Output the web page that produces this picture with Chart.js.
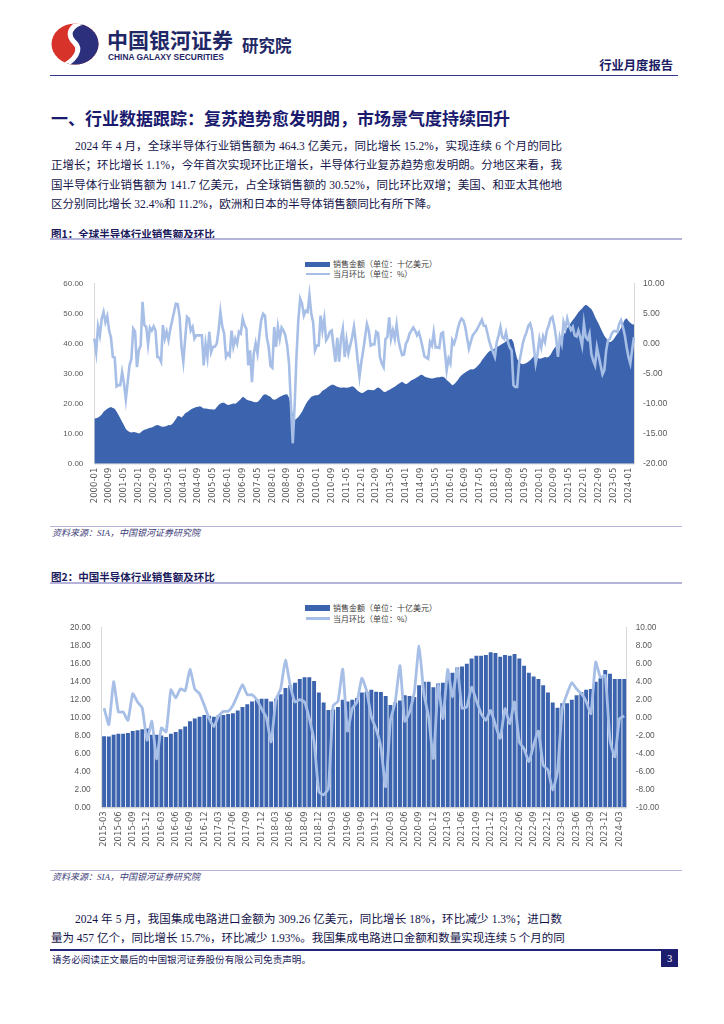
<!DOCTYPE html>
<html lang="zh-CN">
<head>
<meta charset="utf-8">
<title>行业月度报告</title>
<script src="https://cdn.jsdelivr.net/npm/chart.js@4.4.1/dist/chart.umd.min.js"></script>
<style>
  html, body { margin: 0; padding: 0; background: #fff; }
  body { width: 724px; height: 1024px; position: relative; overflow: hidden;
         font-family: "Liberation Serif", "Noto Sans CJK SC", serif; color: #14144a; }
  .abs { position: absolute; white-space: nowrap; }
  .hline { position: absolute; height: 0; }
  .para div { width: 511px; height: 19.2px; line-height: 19.2px; font-size: 11.5px;
              text-align: justify; text-align-last: justify; white-space: nowrap; }
  .para div.first { padding-left: 24px; width: 487px; }
  .para div.last { text-align-last: left; }
  .figtitle { font-family: "Noto Sans CJK SC", sans-serif; font-weight: bold; font-size: 10.5px; color: #1a1a5c; }
  .source { font-family: "Liberation Serif", "Noto Sans CJK SC", serif; font-style: italic; font-size: 9px; color: #3c3c78; }
  .legend { font-family: "Noto Sans CJK SC", sans-serif; font-size: 8px; color: #404040; line-height: 10px; }
  canvas { position: absolute; }
</style>
</head>
<body>

<!-- header -->
<svg class="abs" style="left:51px;top:23px" width="48" height="42" viewBox="0 0 48 42">
  <defs><clipPath id="logoClip"><ellipse cx="24" cy="21" rx="23.5" ry="20.5"/></clipPath></defs>
  <g clip-path="url(#logoClip)">
    <rect width="48" height="42" fill="#d8332b"/>
    <path d="M 42 -1 C 24 -3, 13 9, 23 19 C 31 26, 26 37, 8 45 L 50 45 L 50 -1 Z" fill="#2b2f7c"/>
    <path d="M 42 -1 C 24 -3, 13 9, 23 19 C 31 26, 26 37, 8 45" stroke="#fff" stroke-width="5" fill="none"/>
  </g>
</svg>
<div class="abs" style="left:107px;top:27px;font-family:'Noto Sans CJK SC',sans-serif;font-weight:bold;font-size:21px;line-height:24px;color:#1f2766;">中国银河证券</div>
<div class="abs" style="left:108px;top:52px;font-family:'Liberation Sans',sans-serif;font-weight:bold;font-size:8.4px;line-height:10px;color:#1f2766;">CHINA GALAXY SECURITIES</div>
<div class="abs" style="left:242px;top:35px;font-family:'Noto Sans CJK SC',sans-serif;font-weight:bold;font-size:16.5px;line-height:20px;color:#1f2766;">研究院</div>
<div class="abs" style="right:51px;top:57px;font-family:'Noto Sans CJK SC',sans-serif;font-weight:bold;font-size:12.3px;line-height:16px;color:#1c1c66;">行业月度报告</div>
<div class="hline" style="left:50px;width:628px;top:74.5px;border-top:1.5px solid #34348a;"></div>

<!-- section title -->
<div class="abs" style="left:51px;top:106px;font-family:'Noto Sans CJK SC',sans-serif;font-weight:bold;font-size:17px;line-height:23px;color:#1a1a6e;">一、行业数据跟踪：复苏趋势愈发明朗，市场景气度持续回升</div>

<!-- paragraph 1 -->
<div class="para abs" style="left:51px;top:137.2px;">
  <div class="first">2024 年 4 月，全球半导体行业销售额为 464.3 亿美元，同比增长 15.2%，实现连续 6 个月的同比</div>
  <div>正增长；环比增长 1.1%，今年首次实现环比正增长，半导体行业复苏趋势愈发明朗。分地区来看，我</div>
  <div>国半导体行业销售额为 141.7 亿美元，占全球销售额的 30.52%，同比环比双增；美国、和亚太其他地</div>
  <div class="last">区分别同比增长 32.4%和 11.2%，欧洲和日本的半导体销售额同比有所下降。</div>
</div>

<!-- figure 1 -->
<div class="abs figtitle" style="left:51px;top:226px;line-height:15px;">图1：全球半导体行业销售额及环比</div>
<div class="hline" style="left:50px;width:632px;top:238px;border-top:2px solid #b6b3d9;"></div>

<div class="abs" style="left:305px;top:261.5px;width:25px;height:5.5px;background:#3c64ae;"></div>
<div class="abs legend" style="left:333px;top:259px;">销售金额（单位：十亿美元）</div>
<div class="abs" style="left:306px;top:272.7px;width:24px;height:2.7px;background:#a7bfe7;"></div>
<div class="abs legend" style="left:333px;top:269px;">当月环比（单位：%）</div>

<canvas id="globalChart" width="650" height="244" style="left:40px;top:268px;"></canvas>

<div class="hline" style="left:50px;width:632px;top:526px;border-top:1px solid #b6b3d9;"></div>
<div class="abs source" style="left:52px;top:527px;line-height:13px;">资料来源：SIA，中国银河证券研究院</div>

<!-- figure 2 -->
<div class="abs figtitle" style="left:51px;top:569px;line-height:15px;">图2：中国半导体行业销售额及环比</div>
<div class="hline" style="left:50px;width:632px;top:582px;border-top:2px solid #b6b3d9;"></div>

<div class="abs" style="left:305px;top:605px;width:25px;height:5.5px;background:#3c64ae;"></div>
<div class="abs legend" style="left:333px;top:602.5px;">销售金额（单位：十亿美元）</div>
<div class="abs" style="left:306px;top:617px;width:24px;height:2.7px;background:#a7bfe7;"></div>
<div class="abs legend" style="left:333px;top:613.5px;">当月环比（单位：%）</div>

<canvas id="chinaChart" width="650" height="244" style="left:40px;top:612px;"></canvas>

<div class="hline" style="left:50px;width:632px;top:870px;border-top:1px solid #b6b3d9;"></div>
<div class="abs source" style="left:52px;top:870.5px;line-height:13px;">资料来源：SIA，中国银河证券研究院</div>

<!-- paragraph 2 -->
<div class="para abs" style="left:51px;top:909.5px;">
  <div class="first">2024 年 5 月，我国集成电路进口金额为 309.26 亿美元，同比增长 18%，环比减少 1.3%；进口数</div>
  <div>量为 457 亿个，同比增长 15.7%，环比减少 1.93%。我国集成电路进口金额和数量实现连续 5 个月的同</div>
</div>

<!-- footer -->
<div class="hline" style="left:50px;width:628px;top:948.5px;border-top:2px solid #23237a;"></div>
<div class="abs" style="left:52px;top:951.5px;font-family:'Noto Sans CJK SC',sans-serif;font-size:9.6px;line-height:14px;color:#1a1a5a;">请务必阅读正文最后的中国银河证券股份有限公司免责声明。</div>
<div class="abs" style="left:661px;top:950px;width:17px;height:17px;background:#1d1d70;color:#fff;font-family:'Liberation Serif',serif;font-size:10.5px;line-height:17px;text-align:center;">3</div>

<script>
// --- data ---
// Figure 1: global semiconductor sales (bn USD), 2000-01 .. 2024-04
const globalSales = [
  15.1, 15.2, 15.4, 15.8, 16.4, 17.3, 17.8, 18.3, 18.7, 18.9, 18.6, 18.3, // 2000
  17.4, 16.3, 15.2, 14.0, 12.8, 11.6, 11.0, 10.6, 10.4, 10.6, 10.5, 10.3, // 2001
  10.1, 10.4, 11.0, 11.3, 11.5, 11.7, 12.0, 12.1, 12.4, 12.7, 12.9, 12.7, // 2002
  12.4, 12.3, 12.4, 12.6, 12.9, 12.8, 13.2, 14.0, 14.9, 15.9, 15.8, 15.4, // 2003
  16.0, 16.8, 17.2, 17.6, 18.1, 18.4, 18.7, 18.9, 19.0, 19.2, 18.8, 18.4, // 2004
  18.4, 18.3, 18.2, 18.2, 18.1, 18.1, 18.8, 19.6, 20.1, 20.3, 20.3, 19.9, // 2005
  19.6, 19.7, 19.9, 20.1, 20.0, 20.4, 21.0, 21.6, 22.3, 22.0, 21.4, 21.2, // 2006
  21.0, 20.8, 20.6, 20.5, 20.6, 21.2, 22.0, 22.8, 23.2, 23.0, 22.6, 22.3, // 2007
  21.6, 21.3, 21.5, 21.9, 22.3, 22.6, 22.9, 23.1, 23.2, 22.0, 19.5, 16.5, // 2008
  14.6, 15.0, 15.6, 16.4, 17.3, 18.6, 19.8, 20.8, 21.6, 22.3, 22.6, 22.8, // 2009
  22.8, 23.0, 23.6, 24.3, 24.7, 25.1, 25.6, 26.0, 26.3, 26.3, 26.0, 25.7, // 2010
  25.5, 25.3, 25.4, 25.4, 25.3, 25.4, 25.6, 25.8, 25.6, 25.0, 24.3, 23.9, // 2011
  23.6, 23.7, 24.1, 24.5, 24.7, 24.6, 24.5, 24.6, 25.1, 25.4, 25.2, 24.6, // 2012
  24.0, 23.9, 24.3, 24.6, 25.0, 25.3, 25.7, 26.2, 26.6, 27.0, 27.3, 26.9, // 2013
  26.5, 26.8, 27.3, 27.8, 28.1, 28.4, 28.8, 29.2, 29.7, 29.6, 29.1, 28.8, // 2014
  28.7, 28.5, 28.4, 28.5, 28.7, 28.8, 28.8, 29.0, 29.0, 28.7, 27.9, 27.4, // 2015
  26.8, 26.2, 26.5, 27.2, 27.9, 28.8, 29.5, 30.0, 30.4, 30.8, 31.2, 31.5, // 2016
  31.4, 31.7, 32.2, 32.8, 33.5, 34.5, 35.3, 36.1, 36.9, 37.5, 37.8, 38.1, // 2017
  38.5, 38.9, 39.2, 39.6, 40.0, 40.3, 40.8, 41.2, 41.5, 41.6, 40.5, 37.5, // 2018
  35.0, 33.8, 33.4, 33.2, 33.3, 33.6, 34.0, 34.5, 35.2, 35.8, 35.9, 35.4, // 2019
  35.0, 35.1, 35.3, 35.6, 35.4, 35.7, 36.3, 37.5, 38.5, 39.2, 39.8, 40.3, // 2020
  41.5, 42.8, 44.2, 45.3, 46.2, 47.0, 47.9, 48.7, 49.6, 50.5, 51.2, 51.8, // 2021
  52.5, 53.0, 52.7, 52.1, 51.6, 50.5, 49.0, 47.8, 46.6, 45.2, 43.9, 42.7, // 2022
  41.8, 41.0, 40.5, 40.8, 41.5, 42.4, 43.3, 44.2, 45.3, 46.8, 48.0, 48.5, // 2023
  47.6, 47.0, 46.5, 46.4                                                  // 2024
];

// Figure 1: month-on-month change (%)
const globalMoM = [
  0.85, -1.4, 2.9, 1.4, 4.2, 5.3, 3.6, 4.6, 2.2, 1.0, -2.2, -2.3,      // 2000
  -7.1, -6.9, -6.9, -4.7, -6.6, -9.3, -6.4, -3.6, -2.5, 2.5, 2.0, -3.9, // 2001
  -1.1, -0.3, 7.0, 3.1, 2.8, -0.1, 2.7, 2.2, 2.9, 2.2, -2.2, -2.3,     // 2002
  -3.0, 3.1, 0.85, 2.0, 0.6, 2.5, 3.9, 5.3, 6.7, 6.6, 4.5, -0.5,       // 2003
  -3.0, 0.85, 4.5, 4.2, 2.2, 2.8, 0.85, 1.4, 1.4, 1.4, 1.4, -3.6,      // 2004
  0.0, -2.2, 2.0, -1.4, -0.5, -0.5, 0.0, 2.2, 5.3, 2.9, 1.7, -2.2,     // 2005
  -1.6, -2.0, 2.2, -0.5, 0.85, 0.0, 2.0, 1.7, 4.2, 3.1, 2.5, -3.6,     // 2006
  -1.1, -6.4, -1.6, 0.1, -1.6, 1.4, 3.9, 5.0, 4.7, 1.1, -0.5, -3.7,    // 2007
  -4.0, 2.8, -0.5, 2.8, 0.85, 2.7, 2.2, 1.4, -0.3, -3.3, -10.0, -16.6, // 2008
  -10.5, -2.2, 3.9, 7.5, 6.7, 4.7, 5.5, 5.3, 8.1, 5.0, 3.6, -1.1,      // 2009
  -0.3, -0.3, 4.7, 2.2, 4.2, 0.6, 1.1, 2.0, 2.2, -0.5, -3.0, 1.0,      // 2010
  -3.0, 0.85, 2.5, -2.2, 0.6, -1.6, -0.3, 1.1, 2.8, 0.3, -2.8, -5.5,   // 2011
  -3.0, -1.1, 1.1, 3.3, 2.2, -0.3, -0.1, -0.1, 2.0, 1.8, -2.2, -3.3,   // 2012
  -3.9, 0.8, 1.1, 4.4, 0.8, 2.2, 0.8, 3.2, 0.6, -0.8, -1.9, -1.8,      // 2013
  0.0, 0.6, 1.7, 2.2, 2.7, 2.2, 1.4, 1.9, 0.8, -0.6, -2.1, -2.3,       // 2014
  -2.5, 0.3, -0.3, 1.9, -0.6, -0.6, -0.7, 1.7, 1.9, -1.1, -4.4, -2.5,  // 2015
  -3.3, 0.6, 0.0, 1.0, 2.5, 3.6, 4.2, 3.9, 2.8, 1.0, -0.8, 0.3,        // 2016
  1.4, 1.8, 2.2, 2.8, 3.4, 4.0, 3.0, 3.0, 1.7, 0.4, -0.6, -1.4,        // 2017
  -2.2, 0.3, 1.4, 2.8, 1.1, 0.8, 1.9, 0.3, -0.6, -1.1, -6.9, -7.2,     // 2018
  -7.2, -3.3, -1.7, 0.0, 1.1, 1.9, 3.0, 3.4, 2.2, -0.6, -3.3, -1.7,    // 2019
  0.8, -0.6, 1.2, 0.3, 2.2, 3.0, 4.2, 4.5, 3.0, 1.0, -2.2, 1.1,        // 2020
  0.0, 3.6, 2.5, 4.2, 3.0, 2.3, 2.8, 1.4, 1.2, 2.2, 1.1, -0.3,         // 2021
  3.4, 1.1, 0.7, 1.7, -1.7, -2.8, -3.6, -0.6, -2.1, -3.6, -5.1, -4.4,  // 2022
  -1.1, 0.6, 0.8, 1.7, 2.1, 2.1, 2.0, 3.3, 3.9, 2.8, 1.5, -0.5,        // 2023
  -2.2, -3.3, -1.0, 1.1                                                // 2024
];

// Figure 2: China semiconductor sales (bn USD), 2015-03 .. 2024-04
const chinaSales = [
  7.93, 7.9, 8.1, 8.2, 8.2, 8.3, 8.5, 8.6, 8.7, 8.8,                 // 2015 (Mar-Dec)
  8.1, 8.1, 8.0, 7.85, 8.2, 8.4, 8.7, 9.0, 9.6, 9.9, 10.1, 10.3,      // 2016
  10.2, 10.1, 10.3, 10.3, 10.4, 10.5, 10.8, 11.2, 11.5, 11.8, 12.0, 12.1, // 2017
  12.1, 11.8, 12.1, 12.6, 13.3, 13.6, 13.9, 14.3, 14.5, 14.5, 14.1, 12.8, // 2018
  11.7, 10.85, 10.9, 11.2, 12.0, 11.8, 12.0, 12.2, 12.8, 12.9, 13.1, 12.9, // 2019
  12.85, 12.4, 11.4, 11.7, 11.9, 12.5, 12.4, 12.3, 13.6, 14.0, 14.0, 13.4, // 2020
  13.8, 13.9, 14.3, 15.0, 15.6, 15.7, 16.0, 16.6, 16.9, 16.9, 17.0, 17.3, // 2021
  17.2, 16.8, 17.0, 16.9, 17.1, 16.6, 15.8, 15.0, 14.6, 14.3, 13.6, 12.8, // 2022
  11.7, 11.1, 11.6, 11.6, 12.0, 12.5, 12.85, 13.1, 13.2, 14.0, 14.4, 15.3, // 2023
  14.9, 14.3, 14.3, 14.3                                                  // 2024
];

// Figure 2: month-on-month change (%)
const chinaMoM = [
  1.07, -0.78, 4.0, 0.63, 0.63, -0.3, 2.67, 1.74, 1.07, -2.52,       // 2015 (Mar-Dec)
  -0.4, -4.6, -1.15, -1.6, 3.1, 2.2, 3.2, 3.0, 5.4, 3.2, 2.67, 1.37,  // 2016
  -0.1, -1.0, 0.2, 0.7, 0.7, 1.37, 2.55, 3.67, 2.55, 2.55, 2.0, 1.0,  // 2017
  0.0, -2.7, 2.0, 3.2, 6.4, 3.6, 1.74, 2.0, 1.74, -0.1, -2.7, -8.26,  // 2018
  -8.6, -7.9, 1.37, 1.8, 5.4, -1.5, 1.0, 1.74, 4.4, 3.0, 0.07, -1.3,  // 2019
  -3.3, -7.7, -0.3, 1.74, 5.8, -0.4, 0.63, 2.8, 8.0, 2.67, 0.07, -4.56, // 2020
  3.6, -0.1, 5.37, 2.3, 5.5, 1.07, 1.2, 3.4, 1.9, 0.44, -0.3, 0.8,    // 2021
  -0.85, -2.3, 1.0, -0.67, 1.74, -2.7, -3.5, -4.9, -3.07, -1.5, -5.3, -5.85, // 2022
  -8.07, -6.0, 1.0, 2.67, 3.9, 3.2, 2.67, 1.8, 0.44, 6.2, 4.5, 4.7,   // 2023
  -2.5, -4.37, -0.1, 0.19                                             // 2024
];

// category labels (year-month)
function monthLabels(year, month, count) {
  const out = [];
  for (let i = 0; i < count; i++) {
    out.push(year + '-' + String(month).padStart(2, '0'));
    month++;
    if (month > 12) { month = 1; year++; }
  }
  return out;
}
const globalMonths = monthLabels(2000, 1, globalSales.length);
const chinaMonths = monthLabels(2015, 3, chinaSales.length);

const AREA_BLUE = '#3c64ae';
const LINE_BLUE = '#a7bfe7';
const TICK_GREY = '#595959';
const AXIS_GREY = '#d9d9d9';

Chart.defaults.font.family = "'Liberation Sans', 'Noto Sans CJK SC', sans-serif";
Chart.defaults.color = TICK_GREY;

function xAxis(every, height) {
  return {
    grid: { display: false, drawTicks: false },
    border: { color: AXIS_GREY, width: 1.5 },
    ticks: {
      autoSkip: false, minRotation: 90, maxRotation: 90, padding: 4,
      color: TICK_GREY, font: { family: 'DejaVu Sans', size: 8.5 },
      callback: function(value, index) {
        return index % every === 0 ? this.getLabelForValue(value) : '';
      }
    },
    afterFit: function(scale) { scale.height = height; }
  };
}

function yAxis(pos, min, max, step, width, pad, size) {
  return {
    position: pos, min: min, max: max,
    grid: { display: false, drawTicks: false },
    border: { color: AXIS_GREY, width: 1 },
    ticks: { stepSize: step, padding: pad, color: TICK_GREY, font: { size: size },
             callback: v => v.toFixed(2) },
    afterFit: function(scale) { scale.width = width; }
  };
}

document.addEventListener('DOMContentLoaded', function() {
  // --- Figure 1: area + line ---
  new Chart(document.getElementById('globalChart'), {
    type: 'line',
    data: {
      labels: globalMonths,
      datasets: [
        { label: '当月环比（单位：%）', data: globalMoM, yAxisID: 'y1',
          borderColor: LINE_BLUE, borderWidth: 2.6, pointRadius: 0, tension: 0,
          fill: false, order: 0 },
        { label: '销售金额（单位：十亿美元）', data: globalSales, yAxisID: 'y',
          backgroundColor: AREA_BLUE, borderColor: AREA_BLUE, borderWidth: 0,
          pointRadius: 0, tension: 0, fill: 'origin', order: 1 }
      ]
    },
    options: {
      responsive: false, animation: false,
      layout: { padding: { top: 5.3, left: 0, right: 0, bottom: 0 } },
      plugins: { legend: { display: false }, tooltip: { enabled: false } },
      scales: {
        x: xAxis(8, 48.3),
        y: yAxis('left', 0, 60, 10, 54.3, 11, 8),
        y1: yAxis('right', -20, 10, 5, 56, 9, 8.6)
      }
    }
  });

  // --- Figure 2: bars + line ---
  new Chart(document.getElementById('chinaChart'), {
    type: 'bar',
    data: {
      labels: chinaMonths,
      datasets: [
        { type: 'line', label: '当月环比（单位：%）', data: chinaMoM, yAxisID: 'y1',
          borderColor: LINE_BLUE, borderWidth: 2.8, pointRadius: 0, tension: 0.15,
          fill: false, order: 0 },
        { type: 'bar', label: '销售金额（单位：十亿美元）', data: chinaSales, yAxisID: 'y',
          backgroundColor: AREA_BLUE, borderWidth: 0,
          barPercentage: 0.82, categoryPercentage: 1.0, order: 1 }
      ]
    },
    options: {
      responsive: false, animation: false,
      layout: { padding: { top: 5.3, left: 0, right: 0, bottom: 0 } },
      plugins: { legend: { display: false }, tooltip: { enabled: false } },
      scales: {
        x: xAxis(3, 48.7),
        y: yAxis('left', 0, 20, 2, 61.7, 11, 8.3),
        y1: yAxis('right', -10, 10, 2, 63.3, 9, 8.3)
      }
    }
  });
});
</script>
</body>
</html>
